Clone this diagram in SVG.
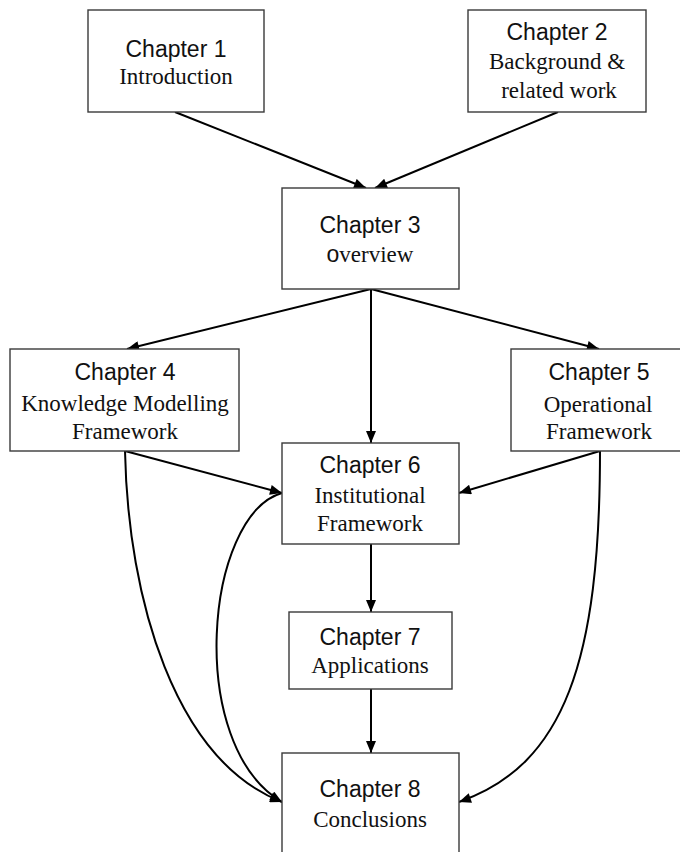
<svg xmlns="http://www.w3.org/2000/svg" width="680" height="852" viewBox="0 0 680 852">
  <style>
    .box { fill: #ffffff; stroke: #3a3a3a; stroke-width: 1.4; }
    .head { font-family: "Liberation Sans", Arial, sans-serif; font-size: 23px; fill: #111; text-anchor: middle; }
    .sub { font-family: "Liberation Serif", "Times New Roman", serif; font-size: 23px; fill: #111; text-anchor: middle; }
    .sans { font-family: "Liberation Sans", Arial, sans-serif; }
    .edge { fill: none; stroke: #000; stroke-width: 2; marker-end: url(#arrow); }
  </style>
  <defs>
    <marker id="arrow" viewBox="0 0 12 10" refX="12" refY="5" markerWidth="13" markerHeight="10" markerUnits="userSpaceOnUse" orient="auto">
      <path d="M0,0 L12,5 L0,10 z" fill="#000"/>
    </marker>
  </defs>
  <rect width="680" height="852" fill="#ffffff"/>

  <g id="connectors">
    <line class="edge" x1="175" y1="112" x2="366" y2="188"/>
    <line class="edge" x1="558" y1="112" x2="375" y2="188"/>
    <line class="edge" x1="371" y1="289" x2="127" y2="349"/>
    <line class="edge" x1="371" y1="289" x2="599" y2="349"/>
    <line class="edge" x1="371" y1="289" x2="371" y2="443"/>
    <line class="edge" x1="125" y1="451" x2="282" y2="493"/>
    <line class="edge" x1="600" y1="451" x2="459" y2="493"/>
    <line class="edge" x1="371" y1="544" x2="371" y2="612"/>
    <line class="edge" x1="371" y1="689" x2="371" y2="753"/>
    <path class="edge" d="M125,451 C128,600 175,760 282,802"/>
    <path class="edge" d="M282,493 C205,515 185,745 282,802"/>
    <path class="edge" d="M600,451 C600,660 565,765 459,802"/>
  </g>

  <g id="ch1">
    <rect class="box" x="88" y="10" width="176" height="102"/>
    <text class="head" x="176" y="57">Chapter 1</text>
    <text class="sub" x="176" y="84">Introduction</text>
  </g>

  <g id="ch2">
    <rect class="box" x="468" y="10" width="178" height="102"/>
    <text class="head" x="557" y="40">Chapter 2</text>
    <text class="sub" x="557" y="69">Background &amp;</text>
    <text class="sub" x="559" y="98">related work</text>
  </g>

  <g id="ch3">
    <rect class="box" x="282" y="188" width="177" height="101"/>
    <text class="head" x="370" y="233">Chapter 3</text>
    <text class="sub" x="370" y="262"><tspan class="sans">o</tspan>verview</text>
  </g>

  <g id="ch4">
    <rect class="box" x="10" y="349" width="229" height="102"/>
    <text class="head" x="125" y="380">Chapter 4</text>
    <text class="sub" x="125" y="411">Knowledge Modelling</text>
    <text class="sub" x="125" y="439">Framework</text>
  </g>

  <g id="ch5">
    <rect class="box" x="511" y="349" width="180" height="102"/>
    <text class="head" x="599" y="380">Chapter 5</text>
    <text class="sub" x="598" y="412">Operational</text>
    <text class="sub" x="599" y="439">Framework</text>
  </g>

  <g id="ch6">
    <rect class="box" x="282" y="443" width="177" height="101"/>
    <text class="head" x="370" y="473">Chapter 6</text>
    <text class="sub" x="370" y="503">Institutional</text>
    <text class="sub" x="370" y="531">Framework</text>
  </g>

  <g id="ch7">
    <rect class="box" x="289" y="612" width="163" height="77"/>
    <text class="head" x="370" y="645">Chapter 7</text>
    <text class="sub" x="370" y="673">Applications</text>
  </g>

  <g id="ch8">
    <rect class="box" x="282" y="753" width="177" height="110"/>
    <text class="head" x="370" y="797">Chapter 8</text>
    <text class="sub" x="370" y="827">Conclusions</text>
  </g>
</svg>
